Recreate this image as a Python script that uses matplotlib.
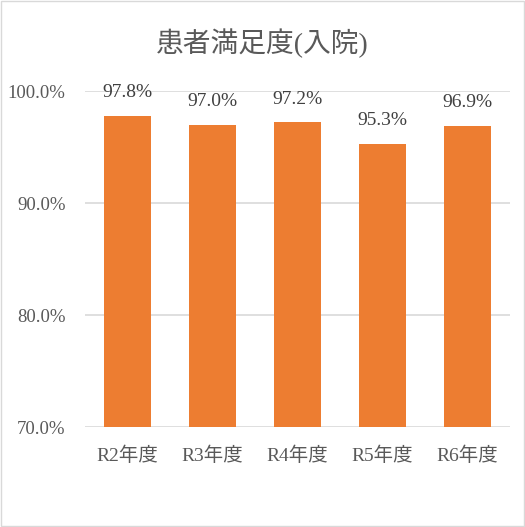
import matplotlib
matplotlib.use('Agg')
import matplotlib.pyplot as plt
from matplotlib.patches import Rectangle

plt.rcParams['font.family'] = ['Liberation Serif', 'Noto Sans CJK JP']

categories = ['R2年度', 'R3年度', 'R4年度', 'R5年度', 'R6年度']
values = [97.8, 97.0, 97.2, 95.3, 96.9]
yticks = [70, 80, 90, 100]

fig = plt.figure(figsize=(5.25, 5.27), dpi=100)
ax = fig.add_axes([85/525, 1 - 427/527, 425/525, 336/527])

x = range(len(categories))
bars = ax.bar(x, [v - 70 for v in values], bottom=70, width=0.55, color='#ED7D31', zorder=3)
for xi, v in zip(x, values):
    ax.text(xi, v + 1.3, f'{v:.1f}%', ha='center', va='bottom', fontsize=14, color='#404040')

ax.set_xlim(-0.5, len(categories) - 0.5)
ax.set_ylim(70, 100)
ax.set_yticks(yticks)
ax.set_yticklabels([f'{t:.1f}%' for t in yticks], fontsize=13.5, color='#595959')
ax.set_xticks(list(x))
ax.set_xticklabels(categories, fontsize=14, color='#595959')
ax.tick_params(length=0)
ax.tick_params(axis='x', pad=14)
ax.tick_params(axis='y', pad=14)
ax.grid(axis='y', color='#D9D9D9', linewidth=1.2, zorder=0)
for s in ax.spines.values():
    s.set_visible(False)

fig.text(0.5, 1 - 43/527, '患者満足度(入院)', ha='center', va='center', fontsize=20, color='#595959')
fig.patches.append(Rectangle((0.002, 0.002), 0.996, 0.996, transform=fig.transFigure,
                             fill=False, edgecolor='#D9D9D9', linewidth=1))

fig.savefig('out.png', dpi=100)
